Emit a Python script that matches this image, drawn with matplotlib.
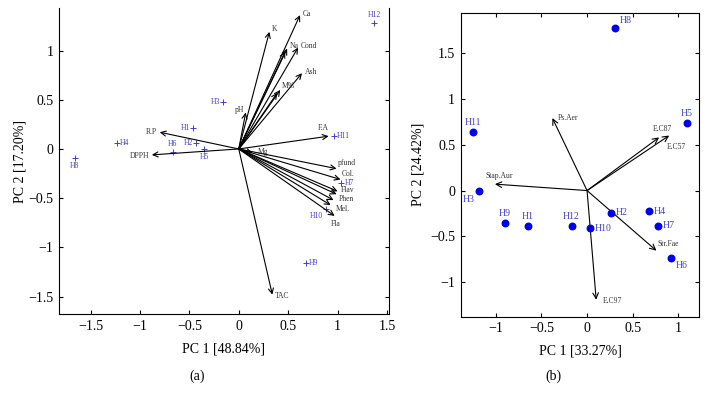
import numpy as np
import matplotlib
matplotlib.use("Agg")
from matplotlib import pyplot as plt

plt.rcParams['font.family'] = ['Liberation Serif', 'DejaVu Serif']

# ---- panel (a): loadings (arrows) and honey samples ----
varNamesA = ["Ca", "K", "Na", "", "Cond", "Ash", "M%", "", "pH", "F.A", "Mg",
             "pfund", "Col.", "Flav", "", "Phen", "Mel.", "Fla", "TAC", "R.P", "DPPH"]
varXA = [0.62, 0.31, 0.49, 0.47, 0.60, 0.64, 0.42, 0.39, 0.07, 0.91, 0.14,
         0.99, 1.03, 1.00, 0.99, 0.96, 0.93, 0.97, 0.34, -0.80, -0.88]
varYA = [1.36, 1.19, 1.02, 0.99, 1.03, 0.77, 0.60, 0.57, 0.37, 0.13, -0.04,
         -0.20, -0.31, -0.43, -0.46, -0.52, -0.57, -0.68, -1.48, 0.17, -0.06]

sampNamesA = ["H1", "H2", "H3", "H4", "H5", "H6", "H7", "H8", "H9", "H10", "H11", "H12"]
sampXA = [-0.46, -0.43, -0.16, -1.23, -0.35, -0.67, 1.04, -1.66, 0.68, 0.88, 0.96, 1.37]
sampYA = [0.21, 0.06, 0.48, 0.06, 0.00, -0.03, -0.35, -0.09, -1.16, -0.61, 0.13, 1.28]

# ---- panel (b): loadings (arrows) and honey samples ----
varNamesB = ["Ps.Aer", "Stap.Aur", "E.C87", "E.C57", "Str.Fae", "E.C97"]
varXB = [-0.38, -1.01, 0.79, 0.90, 0.76, 0.10]
varYB = [0.79, 0.07, 0.58, 0.60, -0.655, -1.19]

sampNamesB = ["H1", "H2", "H3", "H4", "H5", "H6", "H7", "H8", "H9", "H10", "H11", "H12"]
sampXB = [-0.65, 0.26, -1.18, 0.68, 1.09, 0.92, 0.78, 0.31, -0.90, 0.03, -1.25, -0.17]
sampYB = [-0.39, -0.24, -0.01, -0.225, 0.74, -0.73, -0.385, 1.77, -0.35, -0.41, 0.64, -0.385]

# label placement (offset in points, horizontal alignment)
varLabA = {"Ca": (2, 1, "left"), "K": (2, 2, "left"), "Na": (2, 2, "left"),
           "Cond": (2, 1, "left"), "Ash": (2, 1, "left"), "M%": (1, 3, "left"),
           "pH": (-1, 2, "right"), "F.A": (-4, 6, "center"), "Mg": (4, 1, "left"),
           "pfund": (1, 4, "left"), "Col.": (1, 4, "left"), "Flav": (2, 1, "left"),
           "Phen": (4, 0.5, "left"), "Mel.": (4, -3, "left"), "Fla": (1, -6, "center"),
           "TAC": (2, -1, "left"), "R.P": (-2, 0, "right"), "DPPH": (-2, -1, "right")}
sampLabA = {"H1": "l", "H2": "l", "H3": "l", "H4": "r", "H5": "b", "H6": "t",
            "H7": "r", "H8": "b", "H9": "r", "H10": "bl", "H11": "r", "H12": "t"}
varLabB = {"Ps.Aer": (4, 0, "left"), "Stap.Aur": (3, 6, "center"),
           "E.C87": (2, 6, "center"), "E.C57": (5, -8, "center"),
           "Str.Fae": (1, 5, "left"), "E.C97": (5, -1, "left")}
sampLabB = {"H1": "t", "H2": "r", "H3": "bl", "H4": "r", "H5": "t", "H6": "br",
            "H7": "r", "H8": "tr", "H9": "t", "H10": "r", "H11": "t", "H12": "t"}

place = {"l": (-2, 0, "right", "center"), "r": (2, 0, "left", "center"),
         "t": (0, 3, "center", "bottom"), "b": (0, -3, "center", "top"),
         "bl": (-2, -2, "right", "top"), "br": (2, -2, "left", "top"),
         "tr": (2, 2, "left", "bottom")}

blueTxt = "#4040d0"

fig = plt.figure(figsize=(7.08, 3.98), dpi=100)
axA = fig.add_axes([0.0833, 0.2103, 0.466, 0.769])
axB = fig.add_axes([0.6507, 0.2043, 0.337, 0.764])

# panel (a)
for i in range(len(varXA)):
    axA.annotate("", xy=(varXA[i], varYA[i]), xytext=(0, 0),
                 arrowprops=dict(arrowstyle="->", lw=0.8, color="k",
                                 shrinkA=0, shrinkB=0, mutation_scale=9))
    name = varNamesA[i]
    if name:
        dx, dy, ha = varLabA[name]
        axA.annotate(name, xy=(varXA[i], varYA[i]), xytext=(dx, dy),
                     textcoords="offset points", ha=ha, va="center",
                     fontsize=5.5, color="#333333")

axA.scatter(sampXA, sampYA, marker="+", s=14, color=blueTxt, linewidths=0.7)
for i in range(len(sampXA)):
    dx, dy, ha, va = place[sampLabA[sampNamesA[i]]]
    axA.annotate(sampNamesA[i], xy=(sampXA[i], sampYA[i]), xytext=(dx, dy),
                 textcoords="offset points", ha=ha, va=va,
                 fontsize=5.5, color=blueTxt)

axA.set_xlim(-1.82, 1.52)
axA.set_ylim(-1.68, 1.43)
axA.set_xticks([-1.5, -1, -0.5, 0, 0.5, 1, 1.5])
axA.set_xticklabels(["\u22121.5", "\u22121", "\u22120.5", "0", "0.5", "1", "1.5"])
axA.set_yticks([-1.5, -1, -0.5, 0, 0.5, 1])
axA.set_yticklabels(["\u22121.5", "\u22121", "\u22120.5", "0", "0.5", "1"])
axA.spines["top"].set_visible(False)
axA.tick_params(direction="in", length=3, width=0.8, labelsize=10, pad=4,
                right=True)
axA.set_xlabel("PC 1 [48.84%]", fontsize=10, labelpad=7)
axA.set_ylabel("PC 2 [17.20%]", fontsize=10, labelpad=1)

# panel (b)
for i in range(len(varXB)):
    axB.annotate("", xy=(varXB[i], varYB[i]), xytext=(0, 0),
                 arrowprops=dict(arrowstyle="->", lw=0.8, color="k",
                                 shrinkA=0, shrinkB=0, mutation_scale=10))
    dx, dy, ha = varLabB[varNamesB[i]]
    axB.annotate(varNamesB[i], xy=(varXB[i], varYB[i]), xytext=(dx, dy),
                 textcoords="offset points", ha=ha, va="center",
                 fontsize=5.5, color="#333333")

axB.scatter(sampXB, sampYB, marker="o", s=22, color="#0000ee", zorder=3)
for i in range(len(sampXB)):
    dx, dy, ha, va = place[sampLabB[sampNamesB[i]]]
    axB.annotate(sampNamesB[i], xy=(sampXB[i], sampYB[i]), xytext=(dx * 1.6, dy * 1.2),
                 textcoords="offset points", ha=ha, va=va,
                 fontsize=7, color=blueTxt)

axB.set_xlim(-1.385, 1.23)
axB.set_ylim(-1.375, 1.94)
axB.set_xticks([-1, -0.5, 0, 0.5, 1])
axB.set_xticklabels(["\u22121", "\u22120.5", "0", "0.5", "1"])
axB.set_yticks([-1, -0.5, 0, 0.5, 1, 1.5])
axB.set_yticklabels(["\u22121", "\u22120.5", "0", "0.5", "1", "1.5"])
axB.tick_params(direction="in", length=3, width=0.8, labelsize=10, pad=4,
                right=True, top=True)
axB.set_xlabel("PC 1 [33.27%]", fontsize=10, labelpad=7)
axB.set_ylabel("PC 2 [24.42%]", fontsize=10, labelpad=4)

for ax in (axA, axB):
    for s in ax.spines.values():
        s.set_linewidth(0.8)

fig.text(0.278, 0.055, "(a)", ha="center", va="center", fontsize=10)
fig.text(0.781, 0.055, "(b)", ha="center", va="center", fontsize=10)

fig.savefig("out.png", dpi=100)
